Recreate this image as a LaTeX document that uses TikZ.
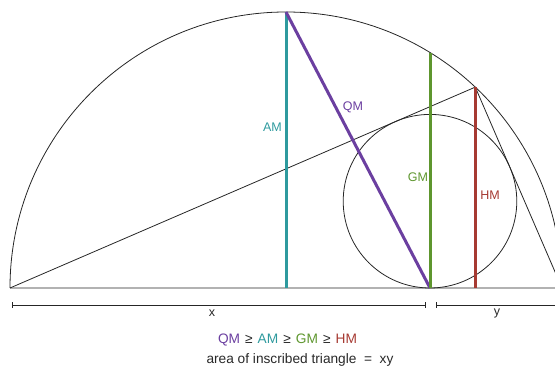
\documentclass[tikz,border=0pt]{standalone}
\usepackage{fontspec}
\setmainfont{Liberation Sans}
\usetikzlibrary{calc}

\definecolor{qmcol}{RGB}{107,63,160}
\definecolor{amcol}{RGB}{46,154,158}
\definecolor{gmcol}{RGB}{94,150,46}
\definecolor{hmcol}{RGB}{166,58,50}
\definecolor{txtcol}{RGB}{40,40,40}

\newcommand{\gesep}{\hspace{0.37em}≥\hspace{0.37em}}

\tikzset{
  thinline/.style={line width=0.8pt, black!85},
  meanline/.style={line width=3pt},
  lbl/.style={font=\fontsize{12.5}{14}\selectfont, inner sep=0pt},
  caption/.style={font=\fontsize{13.7}{15}\selectfont, inner sep=0pt, text=txtcol},
}

\begin{document}
\begin{tikzpicture}[x=10pt, y=10pt]

				% Frame
				\useasboundingbox (-1,-8.1) rectangle (54.5,28.8);
				\clip (-1,-8.1) rectangle (54.5,28.8);

				% Lengths
				\pgfmathsetmacro{\xx}{42}
				\pgfmathsetmacro{\yy}{13.2}
				\pgfmathsetmacro{\rad}{(\xx+\yy)/2}
				\pgfmathsetmacro{\gm}{sqrt(\xx*\yy)}
				\pgfmathsetmacro{\hm}{2*\xx*\yy/(\xx+\yy)}
				\pgfmathsetmacro{\inr}{(sqrt((\xx+\yy)^2+4*\xx*\yy)-(\xx+\yy))/2}
				\pgfmathsetmacro{\cx}{(\xx+\inr)^2/(\xx+\yy)}

				% Points
				\coordinate (A) at (0,0);
				\coordinate (B) at ({\xx+\yy},0);
				\coordinate (O) at (\rad,0);
				\coordinate (D) at (\xx,0);
				\coordinate (amtop) at (\rad,\rad);
				\coordinate (gmtop) at (\xx,\gm);
				\coordinate (C) at (\cx,\hm);
				\coordinate (hmfoot) at (\cx,0);
				\coordinate (I) at (\xx,\inr);

				% Semicircle, triangle and incircle
				\draw[thinline] (A) -- (B) arc[start angle=0, end angle=180, radius=\rad];
				\draw[thinline] (A) -- (C) -- (B);
				\draw[thinline] (I) circle (\inr);

				% Means
				\draw[meanline, amcol] (O) -- (amtop);
				\draw[meanline, qmcol] (D) -- (amtop);
				\draw[meanline, gmcol] (D) -- (gmtop);
				\draw[meanline, hmcol] (hmfoot) -- (C);

				\node[lbl, text=amcol] (amlbl) at (26.25,16.1) {AM};
				\node[lbl, text=qmcol] (qmlbl) at (34.3,18.1) {QM};
				\node[lbl, text=gmcol] (gmlbl) at (40.8,11.1) {GM};
				\node[lbl, text=hmcol] (hmlbl) at (48.0,9.3) {HM};

				% Dimensions
				\coordinate (xl) at (0.2,-1.7);
				\coordinate (xr) at (41.5,-1.7);
				\coordinate (yl) at (42.6,-1.7);
				\coordinate (yr) at (56,-1.7);
				\draw[thinline] (xl) -- (xr);
				\draw[thinline] (yl) -- (yr);
				\foreach \p in {xl,xr,yl} {
					\draw[thinline] ($(\p)+(0,-0.3)$) -- ($(\p)+(0,0.3)$);
				}
				\node[lbl, text=txtcol] (xlbl) at (20.2,-2.5) {x};
				\node[lbl, text=txtcol] (ylbl) at (48.7,-2.5) {y};

				% Caption
				\node[caption] (ineq) at (27.75,-5.2) {{\color{qmcol}QM}\gesep{\color{amcol}AM}\gesep{\color{gmcol}GM}\gesep{\color{hmcol}HM}};
				\node[caption] (area) at (29.0,-7.2) {area of inscribed triangle \ = \ xy};
			\end{tikzpicture}
\end{document}
